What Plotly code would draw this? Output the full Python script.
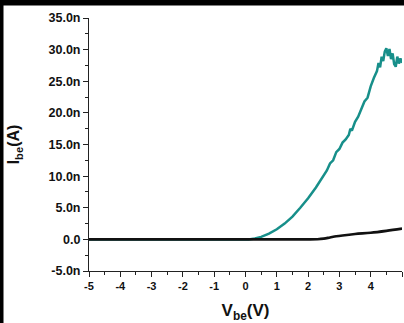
import plotly.graph_objects as go

# Data (V in volts, I in nA)
teal_v = [-5.0, -4.0, -3.0, -2.0, -1.0, 0.0, 0.1, 0.3, 0.5, 0.75, 1.0, 1.25, 1.5, 1.75, 2.0,
          2.25, 2.5, 2.6, 2.7, 2.8, 2.9, 3.0, 3.1, 3.2, 3.3, 3.35, 3.4, 3.5, 3.6, 3.7,
          3.8, 3.9, 4.0, 4.1, 4.2, 4.25, 4.3, 4.35, 4.4, 4.45, 4.5, 4.55, 4.6, 4.65,
          4.7, 4.75, 4.8, 4.85, 4.9, 4.95, 5.0]
teal_i = [0.0, 0.0, 0.0, 0.0, 0.0, 0.0, 0.0, 0.15, 0.4, 0.9, 1.6, 2.5, 3.6, 5.0, 6.5,
          8.2, 10.1, 10.9, 12.0, 12.5, 13.8, 14.3, 15.3, 15.8, 16.5, 17.5, 17.2, 18.6, 19.4, 20.5,
          21.8, 22.4, 24.2, 25.5, 26.6, 27.9, 27.2, 28.9, 28.2, 29.7, 30.2, 29.0, 30.1, 28.5,
          29.4, 27.7, 27.3, 28.9, 27.8, 28.6, 27.9]

black_v = [-5.0, -2.0, 0.0, 1.0, 2.0, 2.3, 2.5, 2.7, 2.9, 3.1, 3.5, 4.0, 4.5, 5.0]
black_i = [0.0, 0.0, 0.0, 0.0, 0.0, 0.03, 0.12, 0.3, 0.48, 0.62, 0.85, 1.05, 1.35, 1.7]

y_tickvals = [-5, 0, 5, 10, 15, 20, 25, 30, 35]
y_ticktext = ["-5.0n", "0.0", "5.0n", "10.0n", "15.0n", "20.0n", "25.0n", "30.0n", "35.0n"]
x_tickvals = [-5, -4, -3, -2, -1, 0, 1, 2, 3, 4, 5]
x_ticktext = ["-5", "-4", "-3", "-2", "-1", "0", "1", "2", "3", "4", "5"]

fig = go.Figure()
fig.add_trace(go.Scatter(x=teal_v, y=teal_i, mode="lines",
                         line=dict(color="#178f8a", width=2.5), showlegend=False))
fig.add_trace(go.Scatter(x=black_v, y=black_i, mode="lines",
                         line=dict(color="#111111", width=2.6, shape="spline"), showlegend=False))

W, H = 404, 323
ml, mr, mt, mb = 89, 2, 18, 52
pw, ph = W - ml - mr, H - mt - mb

def px2paper_x(px):
    return (px - ml) / pw

def px2paper_y(py):
    return (H - mb - py) / ph

fig.update_layout(
    width=W, height=H,
    margin=dict(l=ml, r=mr, t=mt, b=mb),
    paper_bgcolor="white", plot_bgcolor="white",
    font=dict(family="Liberation Sans, Arial, sans-serif", color="#111111"),
    xaxis=dict(range=[-5, 5], tickvals=x_tickvals, ticktext=x_ticktext,
               showgrid=False, zeroline=False, showline=True, linecolor="#222222", linewidth=1,
               ticks="outside", ticklen=5, tickcolor="#222222",
               minor=dict(ticks="outside", ticklen=3, dtick=0.5, tickcolor="#222222"),
               tickfont=dict(size=11, family="Liberation Sans, Arial", weight="bold"),
               title=dict(text="<b>V<sub>be</sub>(V)</b>", font=dict(size=17), standoff=13)),
    yaxis=dict(range=[-5, 35], tickvals=y_tickvals, ticktext=y_ticktext,
               showgrid=False, zeroline=False, showline=True, linecolor="#222222", linewidth=1,
               ticks="outside", ticklen=5, tickcolor="#222222",
               minor=dict(ticks="outside", ticklen=3, dtick=2.5, tickcolor="#222222"),
               tickfont=dict(size=12.5, family="Liberation Sans, Arial", weight="bold"),
               title=dict(text="<b>I<sub>be</sub>(A)</b>", font=dict(size=16), standoff=24)),
    shapes=[
        dict(type="rect", xref="paper", yref="paper",
             x0=px2paper_x(0), x1=px2paper_x(W), y0=px2paper_y(5), y1=px2paper_y(0),
             fillcolor="#000000", opacity=1, line=dict(color="#000000", width=1), layer="above"),
        dict(type="rect", xref="paper", yref="paper",
             x0=px2paper_x(0), x1=px2paper_x(3), y0=px2paper_y(H), y1=px2paper_y(0),
             fillcolor="#000000", opacity=1, line=dict(color="#000000", width=1), layer="above"),
    ],
)

fig.write_html("out.html", config={"displayModeBar": False},
               post_script="document.body.style.margin='0';document.body.style.overflow='hidden';")
